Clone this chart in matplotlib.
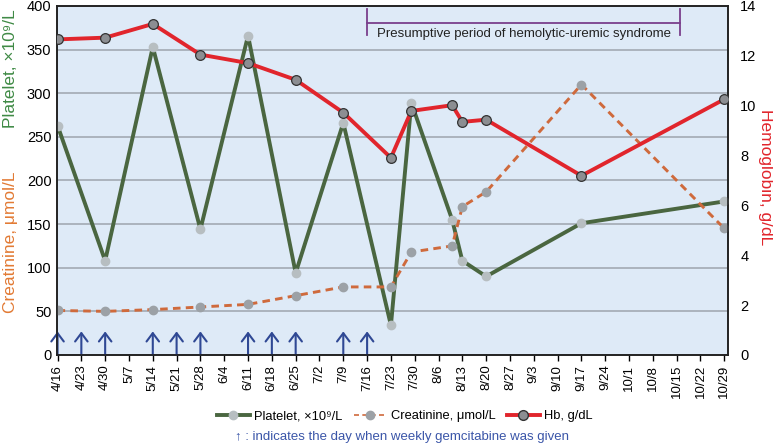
import numpy as np
import pandas as pd
import matplotlib
matplotlib.use("Agg")
import matplotlib.pyplot as plt
from matplotlib.lines import Line2D

plt.rcParams['font.family'] = ['Liberation Sans', 'DejaVu Sans']

# data
dates = ['4/16', '4/30', '5/14', '5/28', '6/11', '6/25', '7/9', '7/23',
         '7/29', '8/10', '8/13', '8/20', '9/17', '10/29']
platelet = [263, 108, 353, 144, 366, 94, 266, 34, 289, 155, 108, 90, 151, 176]
creatinine = [51, 50, 52, 55, 58, 68, 78, 78, 118, 125, 170, 187, 310, 145]
hb = [12.66, 12.73, 13.28, 12.05, 11.71, 11.04, 9.72, 7.91, 9.79, 10.02,
      9.35, 9.44, 7.19, 10.26]
gemcitabine_days = ['4/16', '4/23', '4/30', '5/14', '5/21', '5/28', '6/11',
                    '6/18', '6/25', '7/9', '7/16']
hus_period = ['7/16', '10/16']


def to_dt(s):
    return pd.to_datetime('2012/' + s)


x = [to_dt(d) for d in dates]
tick_dates = pd.date_range(to_dt('4/16'), to_dt('10/29'), freq='7D')

bg = '#deeaf7'
green = '#4a6640'
orange = '#cf6a3c'
red = '#e1252c'
blue = '#2f4894'
purple = '#7a3f8c'

fig = plt.figure(figsize=(7.73, 4.44), dpi=100)
ax = fig.add_axes([0.0737, 0.2005, 0.8677, 0.786])
ax.set_facecolor(bg)
ax2 = ax.twinx()

ax.plot(x, platelet, color=green, lw=2.8, marker='o', ms=6,
        mfc='#b7bec1', mec='#b7bec1', zorder=3)
ax.plot(x, creatinine, color=orange, lw=2.1, ls=(0, (2.6, 1.8)), marker='o', ms=6,
        mfc='#9ca1a6', mec='#9ca1a6', zorder=3)
ax2.plot(x, hb, color=red, lw=2.8, marker='o', ms=7,
         mfc='#8c8e92', mec='#333333', mew=0.9, zorder=4)

ax.set_ylim(0, 400)
ax.set_yticks(np.arange(0, 401, 50))
ax2.set_ylim(0, 14)
ax2.set_yticks(np.arange(0, 15, 2))
ax.set_xlim(to_dt('4/16') - pd.Timedelta(hours=4), to_dt('10/29') + pd.Timedelta(days=1))

for v in range(50, 400, 50):
    ax.axhline(v, color='#a7afb8', lw=1.3, zorder=1)

ax.set_xticks(tick_dates)
ax.set_xticklabels([f'{d.month}/{d.day}' for d in tick_dates], rotation=90, fontsize=9.5)
ax.tick_params(axis='x', length=4, width=1, direction='out', pad=3)
ax.tick_params(axis='y', length=0, labelsize=10.5, pad=4)
ax2.tick_params(axis='y', length=0, labelsize=10.5, pad=9)

for a in (ax, ax2):
    for s in a.spines.values():
        s.set_color('#222222')
        s.set_linewidth(1.2)

# weekly gemcitabine arrows
for d in gemcitabine_days:
    ax.annotate('', xy=(to_dt(d), 27), xytext=(to_dt(d), 0),
                arrowprops=dict(arrowstyle='->,head_length=0.6,head_width=0.45',
                                color=blue, lw=1.5, shrinkA=0, shrinkB=0),
                zorder=5)

# HUS bracket
h0, h1 = to_dt(hus_period[0]), to_dt(hus_period[1])
ax.plot([h0, h1], [380, 380], color=purple, lw=1.3, zorder=5)
ax.plot([h0, h0], [367, 397], color=purple, lw=1.3, zorder=5)
ax.plot([h1, h1], [367, 397], color=purple, lw=1.3, zorder=5)
ax.text(h0 + (h1 - h0) / 2, 368, 'Presumptive period of hemolytic-uremic syndrome',
        ha='center', va='center', fontsize=9.5, color='#222222', zorder=5)

# axis titles
fig.text(0.014, 0.845, 'Platelet, ×10⁹/L', rotation=90, ha='center', va='center',
         fontsize=12.5, color='#3f8a45')
fig.text(0.014, 0.455, 'Creatinine, μmol/L', rotation=90, ha='center', va='center',
         fontsize=12.5, color='#e27a34')
fig.text(0.99, 0.6, 'Hemoglobin, g/dL', rotation=270, ha='center', va='center',
         fontsize=12.5, color=red)

handles = [
    Line2D([], [], color=green, lw=2.8, marker='o', ms=6, mfc='#b7bec1', mec='#b7bec1'),
    Line2D([], [], color=orange, lw=1.2, ls=(0, (3, 2)), marker='o', ms=6,
           mfc='#9ca1a6', mec='#9ca1a6'),
    Line2D([], [], color=red, lw=2.8, marker='o', ms=7, mfc='#8c8e92', mec='#333333'),
]
labels = ['Platelet, ×10⁹/L', 'Creatinine, μmol/L', 'Hb, g/dL']
fig.legend(handles, labels, loc='center', bbox_to_anchor=(0.524, 0.062), ncol=3,
           frameon=False, fontsize=9.3, handlelength=2.5, handletextpad=0.35,
           columnspacing=0.9)
fig.text(0.304, 0.016, '↑ : indicates the day when weekly gemcitabine was given',
         ha='left', va='center', fontsize=9.5, color='#3a55a8')

fig.savefig('out.png', dpi=100)
